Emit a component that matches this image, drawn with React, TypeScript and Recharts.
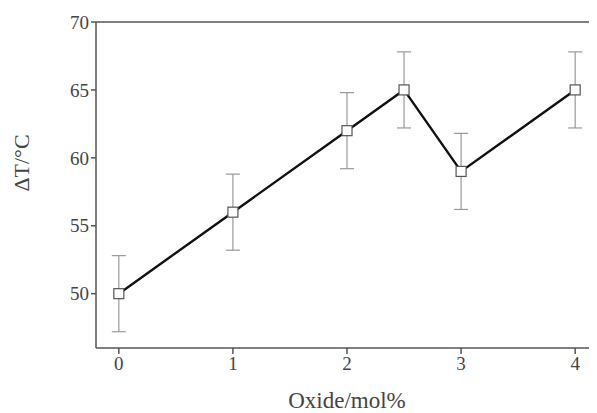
import React from 'react';
import { LineChart, Line, XAxis, YAxis, ErrorBar, ReferenceLine, Label } from 'recharts';

const xValues = [0, 1, 2, 2.5, 3, 4];
const yValues = [50, 56, 62, 65, 59, 65];
const errValues = [2.8, 2.8, 2.8, 2.8, 2.8, 2.8];
const xTicks = [0, 1, 2, 3, 4];
const yTicks = [50, 55, 60, 65, 70];

const data = xValues.map((x, i) => ({ x, y: yValues[i], err: errValues[i] }));

const font = '"Liberation Serif", "Times New Roman", serif';

const SquareDot = (props: any) => {
  const { cx, cy } = props;
  if (cx == null || cy == null) return null;
  const s = 10;
  return <rect x={cx - s / 2} y={cy - s / 2} width={s} height={s} fill="#fff" stroke="#555" strokeWidth={1.2} />;
};

const YLabel = () => {
  const cx = 21;
  const cy = 163;
  return (
    <text x={cx} y={cy} transform={`rotate(-90 ${cx} ${cy})`} textAnchor="middle" dominantBaseline="central"
      fontFamily={font} fontSize={22} fill="#444">ΔT/°C</text>
  );
};

const XLabel = (props: any) => {
  const vb = props.viewBox || {};
  const cx = vb.x + vb.width / 2;
  return (
    <text x={cx} y={408} textAnchor="middle" fontFamily={font} fontSize={23} fill="#444">Oxide/mol%</text>
  );
};

export default function App() {
  return (
    <div style={{ marginLeft: -8, marginTop: -8, width: 600, height: 413, background: '#fff' }}>
      <LineChart width={600} height={413} data={data} margin={{ top: 22, right: 2, bottom: 35, left: 18 }}>
        <XAxis dataKey="x" type="number" domain={[-0.2, 4.2]} ticks={xTicks} allowDataOverflow height={30}
          stroke="#555" strokeWidth={1.5} tickSize={6} tickMargin={3}
          tick={{ fill: '#444', fontFamily: font, fontSize: 19 }}>
          <Label content={<XLabel />} />
        </XAxis>
        <YAxis type="number" domain={[46, 70]} ticks={yTicks} allowDataOverflow width={78}
          stroke="#555" strokeWidth={1.5} tickSize={5} tickMargin={2}
          tick={{ fill: '#444', fontFamily: font, fontSize: 19 }}>
          <Label content={<YLabel />} />
        </YAxis>
        <ReferenceLine y={70} stroke="#555" strokeWidth={1.5} />
        <Line dataKey="y" stroke="#111" strokeWidth={2.4} isAnimationActive={false} dot={<SquareDot />} activeDot={false}>
          <ErrorBar dataKey="err" width={7} stroke="#999" strokeWidth={1.2} direction="y" />
        </Line>
      </LineChart>
    </div>
  );
}
